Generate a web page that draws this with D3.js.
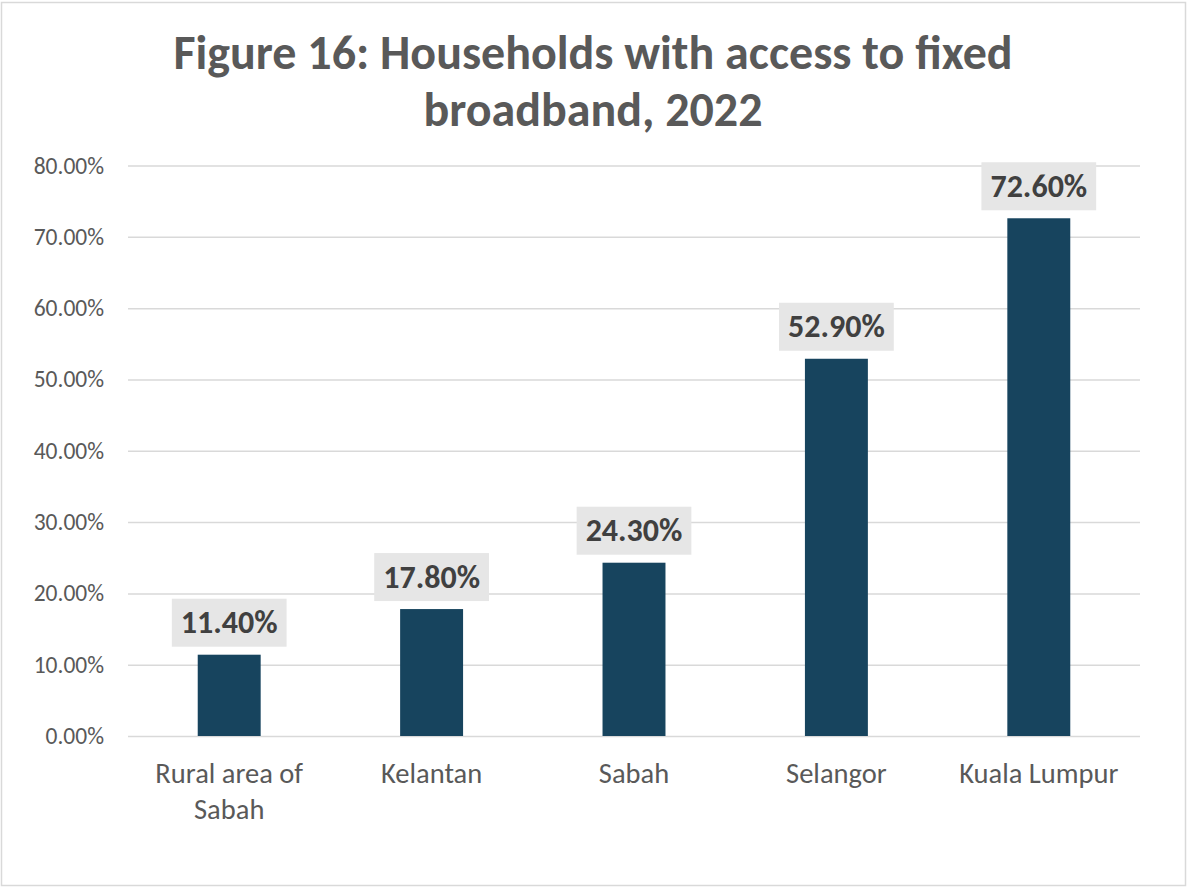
<!DOCTYPE html>
<html>
<head>
<meta charset="utf-8">
<script src="https://cdn.jsdelivr.net/npm/d3@7"></script>
<style>
  html, body { margin: 0; padding: 0; background: #fff; }
  svg { display: block; }
  text { font-family: Carlito, Lato, "Open Sans", sans-serif; }
</style>
</head>
<body>
<svg id="chart" width="1188" height="888"></svg>
<script>
// Data
const categories = ["Rural area of Sabah", "Kelantan", "Sabah", "Selangor", "Kuala Lumpur"];
const values = [11.4, 17.8, 24.3, 52.9, 72.6];
const yTicks = [0, 10, 20, 30, 40, 50, 60, 70, 80];
const titleLines = ["Figure 16: Households with access to fixed", "broadband, 2022"];

const FONT = "Carlito, Lato, 'Open Sans', sans-serif";
const svg = d3.select("#chart");
const W = 1188, H = 888;
const plot = { left: 128, right: 1140, top: 165.5, bottom: 736 };

// Chart frame
svg.append("rect")
  .attr("x", 1.5).attr("y", 2.5)
  .attr("width", W - 4).attr("height", H - 5)
  .attr("fill", "#fff").attr("stroke", "#d9d9d9").attr("stroke-width", 1.5);

// Title
const title = svg.append("text")
  .attr("text-anchor", "middle")
  .attr("fill", "#595959")
  .attr("font-weight", "bold")
  .attr("font-size", 48);
titleLines.forEach((t, i) => {
  title.append("tspan").attr("x", 593).attr("y", 69 + i * 57).text(t);
});

// Scales
const x = d3.scaleBand()
  .domain(categories)
  .range([plot.left, plot.right])
  .paddingInner(0.689)
  .paddingOuter(0.3445);

const y = d3.scaleLinear()
  .domain([0, 80])
  .range([plot.bottom, plot.top]);

// Gridlines + y labels
const yAxis = d3.axisLeft(y)
  .tickValues(yTicks)
  .tickSize(-(plot.right - plot.left))
  .tickPadding(24)
  .tickFormat(d => d.toFixed(2) + "%");

const gy = svg.append("g")
  .attr("transform", `translate(${plot.left},0)`)
  .call(yAxis);
gy.select(".domain").remove();
gy.selectAll(".tick line").attr("stroke", "#d9d9d9").attr("stroke-width", 1.5);
gy.selectAll(".tick text")
  .attr("fill", "#595959")
  .attr("font-size", 23.5)
  .style("font-family", FONT);

// Bars
svg.append("g").selectAll("rect")
  .data(values)
  .join("rect")
  .attr("x", (d, i) => x(categories[i]))
  .attr("y", d => y(d))
  .attr("width", x.bandwidth())
  .attr("height", d => y(0) - y(d))
  .attr("fill", "#17445e");

// Category labels (wrapped)
const xAxis = d3.axisBottom(x).tickSize(0).tickPadding(0);
const gx = svg.append("g")
  .attr("transform", `translate(0,${plot.bottom})`)
  .call(xAxis);
gx.select(".domain").remove();
gx.selectAll(".tick text")
  .attr("fill", "#595959")
  .attr("font-size", 28.5)
  .attr("dy", null)
  .style("font-family", FONT)
  .each(function (d) {
    const el = d3.select(this);
    const words = d.split(" ");
    el.text(null);
    let lines = [[]];
    const probe = el.append("tspan");
    words.forEach(w => {
      const cur = lines[lines.length - 1];
      probe.text([...cur, w].join(" "));
      if (cur.length && probe.node().getComputedTextLength() > 190) lines.push([w]);
      else cur.push(w);
    });
    probe.remove();
    lines.forEach((ln, i) => {
      el.append("tspan").attr("x", 0).attr("y", 47 + i * 36).text(ln.join(" "));
    });
  });

// Value labels with shaded boxes
const lbl = svg.append("g").selectAll("g")
  .data(values)
  .join("g");
lbl.each(function (d, i) {
  const g = d3.select(this);
  const cx = x(categories[i]) + x.bandwidth() / 2;
  const boxBottom = y(d) - 8;
  const boxH = 48;
  const rect = g.append("rect").attr("fill", "#e6e6e6");
  const t = g.append("text")
    .attr("x", cx)
    .attr("y", boxBottom - boxH / 2)
    .attr("text-anchor", "middle")
    .attr("dominant-baseline", "central")
    .attr("font-weight", "bold")
    .attr("font-size", 32)
    .attr("fill", "#404040")
    .text(d.toFixed(2) + "%");
  const tw = t.node().getComputedTextLength();
  rect.attr("x", cx - tw / 2 - 9)
    .attr("y", boxBottom - boxH)
    .attr("width", tw + 18)
    .attr("height", boxH);
});
</script>
</body>
</html>
